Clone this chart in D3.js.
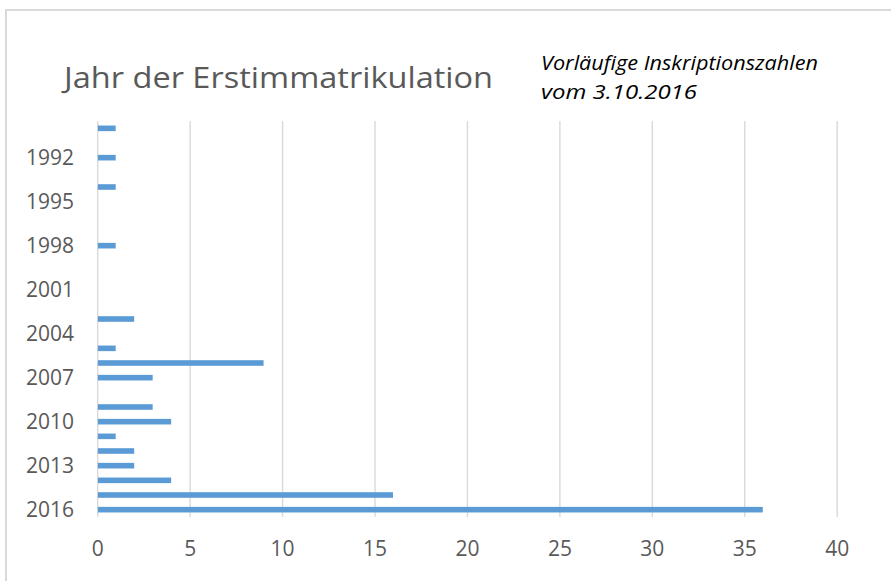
<!DOCTYPE html>
<html>
<head>
<meta charset="utf-8">
<script src="https://cdn.jsdelivr.net/npm/d3@7"></script>
<style>
  html, body { margin: 0; padding: 0; background: #ffffff; }
  svg { display: block; }
</style>
</head>
<body>
<svg id="chart" width="891" height="581"></svg>
<script>
// ---- data ----
const years = ["1990","1991","1992","1993","1994","1995","1996","1997","1998","1999","2000","2001","2002","2003","2004","2005","2006","2007","2008","2009","2010","2011","2012","2013","2014","2015","2016"];
const counts = [1,0,1,0,1,0,0,0,1,0,0,0,0,2,0,1,9,3,0,3,4,1,2,2,4,16,36];
const yTickLabels = ["1992","1995","1998","2001","2004","2007","2010","2013","2016"];
const xTicks = [0,5,10,15,20,25,30,35,40];
const title = "Jahr der Erstimmatrikulation";
const noteLines = ["Vorläufige Inskriptionszahlen", "vom 3.10.2016"];

// ---- layout ----
const svg = d3.select("#chart");
const plotLeft = 97.2, plotRight = 836.7, plotTop = 121, plotBottom = 517;
const textColor = "#595959";
const gridColor = "#d9d9d9";
const barColor = "#5b9bd5";
const font = "'Open Sans', 'DejaVu Sans', sans-serif";

// chart border (extends past the right/bottom of the picture)
svg.append("rect")
  .attr("x", 6).attr("y", 10)
  .attr("width", 1000).attr("height", 1000)
  .attr("fill", "none").attr("stroke", gridColor).attr("stroke-width", 2);

const x = d3.scaleLinear().domain([0, 40]).range([plotLeft, plotRight]);
const y = d3.scaleBand().domain(years).range([plotTop, plotBottom]).paddingInner(0.62).paddingOuter(0.31);

// gridlines + x labels
const xAxis = d3.axisBottom(x).tickValues(xTicks).tickSize(-(plotBottom - plotTop)).tickPadding(0).tickFormat(d3.format("d"));
const gx = svg.append("g").attr("transform", `translate(0,${plotBottom})`).call(xAxis);
gx.select(".domain").remove();
gx.selectAll(".tick line").attr("stroke", gridColor).attr("stroke-width", 1.4);
gx.selectAll(".tick text")
  .attr("y", 39).attr("dy", 0)
  .attr("fill", textColor)
  .style("font-family", font).style("font-size", "21px");

// bars
svg.append("g").selectAll("rect")
  .data(years.map((yr, i) => ({ yr, v: counts[i] })).filter(d => d.v > 0))
  .join("rect")
  .attr("x", x(0) + 0.7)
  .attr("y", d => y(d.yr) + y.bandwidth() / 2 - 2.8)
  .attr("width", d => x(d.v) - x(0) - 0.7)
  .attr("height", 5.6)
  .attr("fill", barColor);

// y axis labels
const yAxis = d3.axisLeft(y).tickValues(yTickLabels).tickSize(0).tickPadding(0);
const gy = svg.append("g").attr("transform", `translate(74,0)`).call(yAxis);
gy.select(".domain").remove();
gy.selectAll(".tick text")
  .attr("x", 0).attr("dy", "0.36em")
  .attr("fill", textColor)
  .style("font-family", font).style("font-size", "21px");

// title
svg.append("text")
  .attr("x", 64).attr("y", 88)
  .attr("fill", textColor)
  .style("font-family", font).style("font-size", "29px").style("font-weight", 400)
  .attr("textLength", 429).attr("lengthAdjust", "spacingAndGlyphs")
  .text(title);

// note
noteLines.forEach((line, i) => {
  const w = i === 0 ? 277 : 156;
  svg.append("text")
    .attr("x", 541).attr("y", 69.5 + i * 29)
    .attr("fill", "#000000")
    .style("font-family", font).style("font-size", "20px").style("font-style", "italic")
    .attr("textLength", w).attr("lengthAdjust", "spacingAndGlyphs")
    .text(line);
});
</script>
</body>
</html>
